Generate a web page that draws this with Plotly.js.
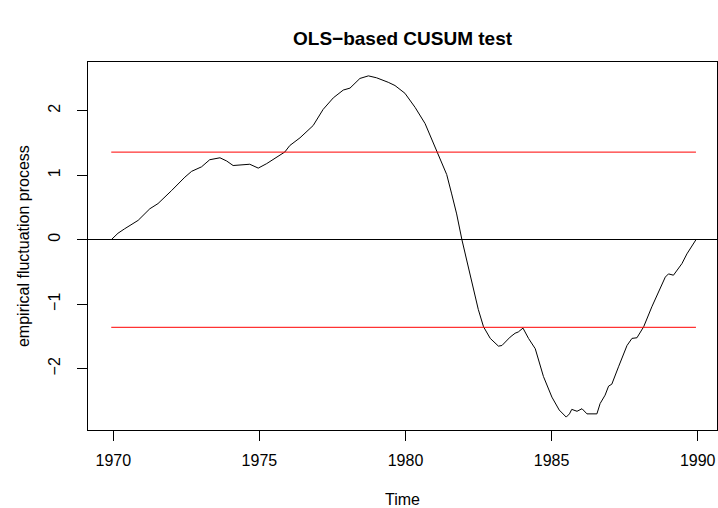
<!DOCTYPE html>
<html>
<head>
<meta charset="utf-8">
<script src="https://cdn.plot.ly/plotly-3.0.1.min.js"></script>
<style>html,body{margin:0;padding:0;background:#fff;}#chart{width:718px;height:508px;}</style>
</head>
<body>
<div id="chart"></div>
<script>
// Time index of the empirical fluctuation process (years)
const time = [1969.93,1970.16,1970.39,1970.85,1971.25,1971.53,1971.99,1972.16,1972.45,1972.68,1972.90,1973.02,1973.30,1973.65,1973.88,1974.10,1974.67,1974.96,1975.25,1975.59,1975.87,1976.04,1976.39,1976.84,1977.18,1977.53,1977.87,1978.10,1978.44,1978.73,1979.01,1979.41,1979.64,1979.98,1980.33,1980.67,1980.90,1981.10,1981.41,1981.58,1981.75,1981.93,1982.10,1982.32,1982.49,1982.67,1982.90,1983.18,1983.30,1983.58,1983.75,1983.86,1984.02,1984.21,1984.44,1984.72,1985.01,1985.26,1985.50,1985.61,1985.69,1985.87,1986.04,1986.21,1986.55,1986.66,1986.83,1986.95,1987.06,1987.29,1987.58,1987.75,1987.92,1988.15,1988.43,1988.89,1989.00,1989.17,1989.46,1989.63,1989.81,1989.94];
// OLS-based CUSUM process values
const cusum = [0.00,0.10,0.17,0.30,0.48,0.56,0.76,0.84,0.97,1.06,1.10,1.13,1.24,1.27,1.22,1.15,1.17,1.11,1.18,1.28,1.36,1.46,1.58,1.77,2.02,2.20,2.32,2.35,2.50,2.54,2.51,2.44,2.39,2.27,2.05,1.80,1.55,1.36,1.01,0.71,0.40,0.00,-0.34,-0.78,-1.08,-1.35,-1.53,-1.65,-1.64,-1.51,-1.45,-1.43,-1.37,-1.53,-1.69,-2.12,-2.44,-2.64,-2.75,-2.70,-2.63,-2.66,-2.62,-2.70,-2.70,-2.54,-2.41,-2.27,-2.24,-1.97,-1.64,-1.53,-1.52,-1.35,-1.04,-0.58,-0.53,-0.55,-0.37,-0.22,-0.09,0.00];
// 5% critical boundary
const boundary = 1.358;
const boundaryTime = [1969.93, 1989.94];
// Axis ticks
const xTicks = [1970, 1975, 1980, 1985, 1990];
const yTicks = [-2, -1, 0, 1, 2];

const FONT = "Liberation Sans, Arial, Helvetica, sans-serif";

const traces = [
  {x: time, y: cusum, type: 'scatter', mode: 'lines', line: {color: '#000000', width: 1}, hoverinfo: 'skip'},
  {x: boundaryTime, y: [boundary, boundary], type: 'scatter', mode: 'lines', line: {color: '#FF0000', width: 1}, hoverinfo: 'skip'},
  {x: boundaryTime, y: [-boundary, -boundary], type: 'scatter', mode: 'lines', line: {color: '#FF0000', width: 1}, hoverinfo: 'skip'}
];

const layout = {
  width: 718, height: 508,
  margin: {l: 88, r: 1, t: 62, b: 78, pad: 0},
  paper_bgcolor: '#ffffff', plot_bgcolor: '#ffffff',
  showlegend: false,
  font: {family: FONT, size: 16, color: '#000000'},
  xaxis: {
    range: [1969.134, 1990.66], tickvals: xTicks, ticktext: xTicks.map(String),
    ticks: 'outside', ticklen: 10, tickwidth: 1, tickcolor: '#000',
    showline: true, linecolor: '#000', linewidth: 1, mirror: true,
    showgrid: false, zeroline: false, ticklabelstandoff: 6,
    tickfont: {family: FONT, size: 16, color: '#000'}
  },
  yaxis: {
    range: [-2.95, 2.755], tickvals: yTicks, ticktext: yTicks.map(v => v < 0 ? '\u2212' + Math.abs(v) : String(v)),
    ticks: 'outside', ticklen: 10, tickwidth: 1, tickcolor: '#000',
    showline: true, linecolor: '#000', linewidth: 1, mirror: true,
    showgrid: false, zeroline: true, zerolinecolor: '#000', zerolinewidth: 1,
    tickangle: -90, ticklabelstandoff: 11,
    tickfont: {family: FONT, size: 16, color: '#000'}
  },
  annotations: [
    {text: '<b>OLS\u2212based CUSUM test</b>', xref: 'paper', yref: 'paper', x: 0.5, y: 1.0652, xanchor: 'center', yanchor: 'middle', showarrow: false, font: {family: FONT, size: 19, color: '#000'}},
    {text: 'Time', xref: 'paper', yref: 'paper', x: 0.5, y: -0.19, xanchor: 'center', yanchor: 'middle', showarrow: false, font: {family: FONT, size: 16, color: '#000'}},
    {text: 'empirical fluctuation process', xref: 'paper', yref: 'paper', x: -0.1033, y: 0.5, xanchor: 'center', yanchor: 'middle', textangle: -90, showarrow: false, font: {family: FONT, size: 16, color: '#000'}}
  ]
};

Plotly.newPlot('chart', traces, layout, {staticPlot: true, displayModeBar: false});
</script>
</body>
</html>
